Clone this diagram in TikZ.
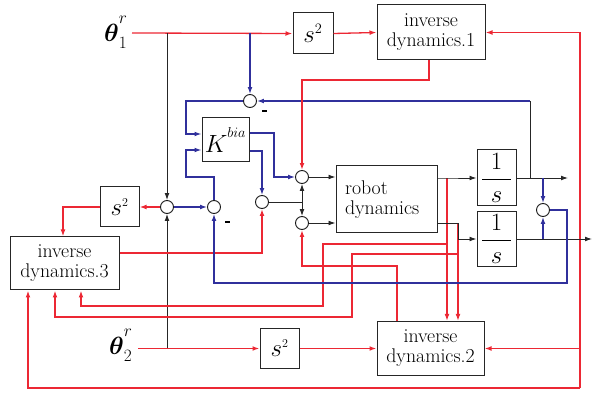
\documentclass[tikz,border=0pt]{standalone}
\usepackage{amsmath}
\usetikzlibrary{arrows.meta}
\definecolor{lnred}{RGB}{236,40,52}
\definecolor{lnblue}{RGB}{48,48,156}
\begin{document}
\begin{tikzpicture}[x=1pt,y=-1pt,
  >={Latex[length=7pt,width=4.8pt]},
  blockbox/.style={draw=black!85, line width=1pt, fill=white, inner sep=0pt, align=center},
  sumnode/.style={circle, draw=black!90, line width=0.9pt, fill=white, minimum size=13pt, inner sep=0pt},
  rl/.style={draw=lnred, line width=1.3pt},
  bll/.style={draw=lnblue, line width=1.2pt},
  kl/.style={draw=black!85, line width=0.9pt},
  txt/.style={font=\rmfamily\fontsize{19.8}{20}\selectfont},
  sgn/.style={fill=black, minimum width=5pt, minimum height=2pt, inner sep=0pt},
]
\useasboundingbox (0,0) rectangle (592,395);

% blocks
\node[blockbox, minimum width=40pt, minimum height=41pt] (s2a) at (313,33.5) {\fontsize{29}{29}\selectfont$s^{\scriptscriptstyle 2}$};
\node[blockbox, minimum width=108pt, minimum height=55pt, txt] (id1) at (431,32.5) {inverse\\dynamics.1};
\node[blockbox, minimum width=47pt, minimum height=44pt] (K) at (225.5,140) {\fontsize{25}{25}\selectfont$K^{\raisebox{6pt}{\fontsize{15}{15}\selectfont$bia$}}$};
\node[blockbox, minimum width=101pt, minimum height=67pt, txt, align=left, text width=83pt, inner xsep=9pt] (robot) at (386.5,199.5) {robot\\dynamics};
\node[blockbox, minimum width=39pt, minimum height=56pt] (i1) at (496.5,178) {\fontsize{25}{25}\selectfont$\dfrac{\makebox[29pt]{$1$}}{s}$};
\node[blockbox, minimum width=39pt, minimum height=55pt] (i2) at (496.5,239) {\fontsize{25}{25}\selectfont$\dfrac{\makebox[29pt]{$1$}}{s}$};
\node[blockbox, minimum width=39pt, minimum height=40pt] (s2b) at (119.5,207) {\fontsize{24}{24}\selectfont$s^{\scriptscriptstyle 2}$};
\node[blockbox, minimum width=109pt, minimum height=53pt, txt] (id3) at (64.5,263.5) {inverse\\dynamics.3};
\node[blockbox, minimum width=39pt, minimum height=40pt] (s2c) at (279.5,348.5) {\fontsize{24}{24}\selectfont$s^{\scriptscriptstyle 2}$};
\node[blockbox, minimum width=107pt, minimum height=54pt, txt] (id2) at (430.5,348.5) {inverse\\dynamics.2};

% summing junctions
\node[sumnode] (c1) at (250,101) {};
\node[sumnode] (c2) at (167,207) {};
\node[sumnode] (c3) at (214,207) {};
\node[sumnode] (c5) at (262,202) {};
\node[sumnode] (c4) at (302,177) {};
\node[sumnode] (c6) at (302,223) {};
\node[sumnode] (c7) at (543,210) {};
\node[sgn] (m1) at (264,111) {};
\node[sgn] (m2) at (227,222) {};

% reference inputs
\node[anchor=base west, inner sep=0pt] (th1) at (104,42) {\fontsize{25}{25}\selectfont$\boldsymbol{\theta}_1^{\raisebox{8pt}{$\scriptstyle r$}}$};
\node[anchor=base west, inner sep=0pt] (th2) at (109,355) {\fontsize{25}{25}\selectfont$\boldsymbol{\theta}_2^{\raisebox{8pt}{$\scriptstyle r$}}$};

\coordinate (t1) at (132,33);
\coordinate (t1k) at (167,33);
\coordinate (t1b) at (250,33);
\coordinate (t2) at (138,348.5);
\coordinate (t2k) at (167,348.5);
\coordinate (lpSE) at (580,388);
\coordinate (lpSW) at (28,388);
\coordinate (fb) at (530,101);
\coordinate (o1) at (530,178);
\coordinate (ro1) at (447,178);
\coordinate (ro2) at (458,223);
\coordinate (jn) at (302,202);
\coordinate (out1) at (568,178);
\coordinate (out2) at (592,239);

% joint 1 reference
\draw[rl,->] (t1) -- (s2a.west);
\draw[rl,->] (s2a.east) -- (id1.west);
\draw[kl,->] (t1k) -- (c2.north);
\draw[bll,->] (t1b) -- (c1.north);

% joint 2 reference
\draw[rl,->] (t2) -- (s2c.west);
\draw[kl,->] (t2k) -- (c2.south);
\draw[rl,->] (s2c.east) -- (id2.west);

% outer red loop
\draw[rl,->] (lpSE) -- (lpSE |- id1.east) -- (id1.east);
\draw[rl,->] (lpSE |- id2.east) -- (id2.east);
\draw[rl,->] (lpSE) -- (lpSW) -- (lpSW |- id3.south);

% bias controller
\draw[kl] (o1) -- (fb);
\draw[bll,->] (fb) -- (c1.east);
\draw[bll,->] (c1.west) -| (186,134) -- (K.west |- 0,134);
\draw[bll,->] (c3.north) |- (186,177) |- (K.west |- 0,150);
\draw[bll,->] (K.east |- 0,133) -| (274,177) -- (c4.west);
\draw[bll,->] (K.east |- 0,151) -| (c5.north);
\draw[bll,->] (c2.east) -- (c3.west);
\draw[rl,->] (c2.west) -- (s2b.east);
\draw[rl,->] (s2b.west) -| (id3.north -| 63,0);

% torques into the plant
\draw[rl,->] (id1.south -| 429,0) |- (302,80) -- (c4.north);
\draw[kl,->] (c4.east) -- (c4.east -| robot.west);
\draw[kl] (c5.east) -- (jn);
\draw[kl,->] (jn) -- (c4.south);
\draw[kl,->] (jn) -- (c6.north);
\draw[kl,->] (c6.east) -- (c6.east -| robot.west);
\draw[rl,->] (id3.east |- 0,253) -| (c5.south);
\draw[rl,->] (id2.north -| 397,0) |- (302,266) -- (c6.south);

% plant outputs
\draw[rl,->] (ro1) -- (ro1 |- id2.north);
\draw[rl,->] (ro2) -- (ro2 |- id2.north);
\draw[rl,->] (ro1 |- 0,244) -| (323,306) -| (id3.south -| 81,0);
\draw[rl,->] (ro2 |- 0,254) -| (352,317) -| (id3.south -| 55,0);
\draw[kl,->] (robot.east |- ro1) -- (ro1) -- (ro1 -| i1.west);
\draw[kl,->] (robot.east |- ro2) -- (ro2) |- (i2.west);
\draw[kl,->] (i1.east) -- (out1);
\draw[kl,->] (i2.east) -- (out2);
\draw[bll,->] (i1.east -| c7) -- (c7.north);
\draw[bll,->] (i2.east -| c7) -- (c7.south);
\draw[bll,->] (c7.east) -| (567,283) -| (c3.south);
\end{tikzpicture}
\end{document}
